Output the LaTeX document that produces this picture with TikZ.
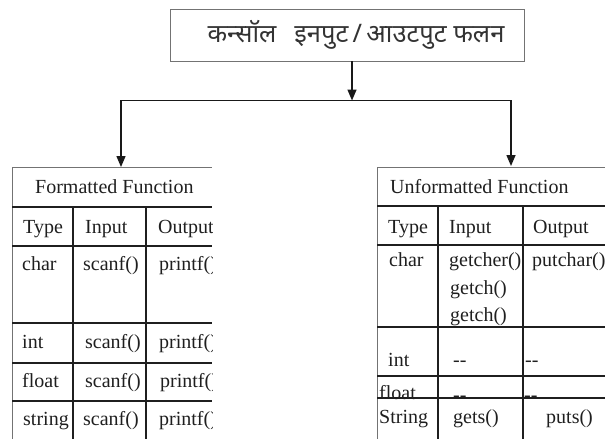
\documentclass[tikz,border=0pt]{standalone}
\usepackage{fontspec}
\setmainfont{Liberation Serif}
\newfontfamily\devfont[Script=Devanagari]{Noto Sans}
\usetikzlibrary{arrows.meta}
\begin{document}
\begin{tikzpicture}[x=1pt,y=-1pt,
  frame/.style={draw=black!55, line width=0.8pt},
  grid/.style={draw=black!88, line width=1.3pt},
  conn/.style={draw=black!90, line width=1.5pt},
  arr/.style={conn, -{Triangle[width=9pt,length=11pt]}},
  cell/.style={anchor=base west, inner sep=0pt, text=black!88, font=\fontsize{20}{24}\selectfont},
]
\useasboundingbox (0,0) rectangle (605,439);

% title box
\node[frame, minimum width=354pt, minimum height=52pt, inner sep=0pt] (box) at (347,35) {};
\node[inner sep=0pt, text=black!80, font=\devfont\fontsize{25.5}{30}\selectfont] (title) at (356,35) {कन्सॉल\hspace{18pt}इनपुट\,/\,आउटपुट फलन};

% connectors
\coordinate (j) at (352,100.5);
\coordinate (ltop) at (121,167);
\coordinate (rtop) at (511,166);
\draw[arr] (box.south -| j) -- (j);
\draw[arr] (j) -| (ltop);
\draw[arr] (j) -| (rtop);

% left table
\begin{scope}
\clip (0,150) rectangle (212,439);
\draw[frame] (12,439) -- (12,167) -- (212,167);
\foreach \y in {207,246,323,363,401} \draw[grid] (12,\y) -- (212,\y);
\foreach \x in {73,146} \draw[grid] (\x,207) -- (\x,439);
\node[cell] (lh) at (35,193) {Formatted Function};
\node[cell] (lt1) at (23,233) {Type};
\node[cell] (lt2) at (85,233) {Input};
\node[cell] (lt3) at (158,233) {Output};
\node[cell] (lc1) at (22,270) {char};
\node[cell] (lc2) at (83,270) {scanf()};
\node[cell] (lc3) at (159,270) {printf()};
\node[cell] (li1) at (22,348) {int};
\node[cell] (li2) at (85,348) {scanf()};
\node[cell] (li3) at (159,348) {printf()};
\node[cell] (lf1) at (22,387) {float};
\node[cell] (lf2) at (85,387) {scanf()};
\node[cell] (lf3) at (160,387) {printf()};
\node[cell] (ls1) at (23,425) {string};
\node[cell] (ls2) at (83,425) {scanf()};
\node[cell] (ls3) at (159,425) {printf()};
\end{scope}

% right table
\begin{scope}
\clip (360,150) rectangle (605,439);
\draw[frame] (377,439) -- (377,167) -- (605,167);
\foreach \y in {206,245,327,376,398} \draw[grid] (377,\y) -- (605,\y);
\foreach \x in {438,523} \draw[grid] (\x,206) -- (\x,439);
\node[cell] (rh) at (390,193) {Unformatted Function};
\node[cell] (rt1) at (388,233) {Type};
\node[cell] (rt2) at (449,233) {Input};
\node[cell] (rt3) at (533,233) {Output};
\node[cell] (rc1) at (389,266) {char};
\node[cell] (rc2) at (449,266) {getcher()};
\node[cell] (rc3) at (532,266) {putchar()};
\node[cell] (rc4) at (450,294) {getch()};
\node[cell] (rc5) at (450,321) {getch()};
\node[cell] (ri1) at (388,366) {int};
\node[cell] (ri2) at (453,366) {-{}-};
\node[cell] (ri3) at (525,366) {-{}-};
\node[cell] (rf1) at (379,399) {float};
\node[cell] (rf2) at (453,401) {-{}-};
\node[cell] (rf3) at (524,401) {-{}-};
\node[cell] (rs1) at (379,423) {String};
\node[cell] (rs2) at (453,423) {gets()};
\node[cell] (rs3) at (546,423) {puts()};
\end{scope}
\end{tikzpicture}
\end{document}
